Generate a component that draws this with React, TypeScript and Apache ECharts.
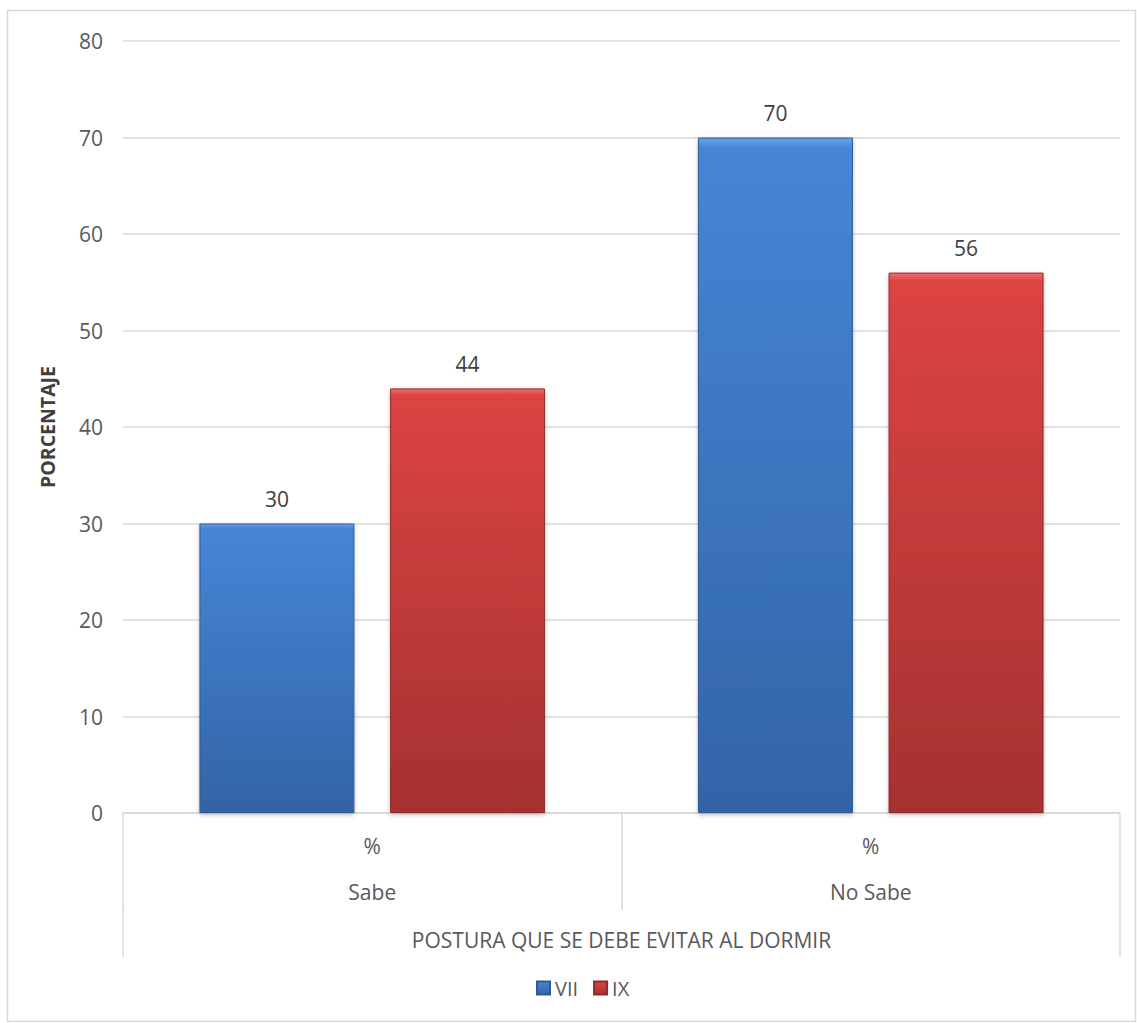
import React, { useEffect, useRef } from "react";
import * as echarts from "echarts";

const unitRow = ["%", "%"];
const groups = ["Sabe", "No Sabe"];
const seriesNames = ["VII", "IX"];
const valuesVII = [30, 70];
const valuesIX = [44, 56];
const yTicks = { min: 0, max: 80, interval: 10 };
const axisTitle = "POSTURA QUE SE DEBE EVITAR AL DORMIR";
const yTitle = "PORCENTAJE";

const W = 1137;
const H = 1023;
const GRID = { left: 123, right: 17, top: 41, bottom: 210 };
const FONT = "'Open Sans', 'Noto Sans', sans-serif";
const LINE = "#d9d9d9";
const TEXT = "#595959";
const FS = 21;

function barFill(top: string, mid: string, bottom: string) {
  return new echarts.graphic.LinearGradient(0, 0, 0, 1, [
    { offset: 0, color: top },
    { offset: 0.015, color: mid },
    { offset: 1, color: bottom },
  ]);
}

export default function App() {
  const ref = useRef<HTMLDivElement>(null);

  useEffect(() => {
    if (!ref.current) return;
    const chart = echarts.init(ref.current, null, { renderer: "svg" });
    const axisBottom = H - GRID.bottom;
    const xLeft = GRID.left;
    const xRight = W - GRID.right;

    const blue = barFill("#6aa3ea", "#4586d6", "#3364a6");
    const red = barFill("#f07070", "#dc4442", "#a53131");

    const labelStyle = {
      show: true,
      position: "top" as const,
      distance: 14,
      color: "#404040",
      fontSize: FS,
      fontFamily: FONT,
    };

    chart.setOption({
      animation: false,
      backgroundColor: "#ffffff",
      grid: { ...GRID, containLabel: false },
      legend: {
        data: seriesNames,
        top: 973,
        left: 531,
        icon: "rect",
        itemWidth: 13,
        itemHeight: 13,
        itemGap: 15,
        textStyle: { color: TEXT, fontSize: 20, fontFamily: FONT },
      },
      xAxis: [
        {
          type: "category",
          data: unitRow,
          position: "bottom",
          axisLine: { show: true, lineStyle: { color: LINE, width: 1.5 } },
          axisTick: {
            show: true,
            interval: 0,
            length: 97,
            lineStyle: { color: LINE, width: 1.5 },
          },
          axisLabel: {
            margin: 22,
            color: TEXT,
            fontSize: FS,
            fontFamily: FONT,
          },
        },
        {
          type: "category",
          data: groups,
          position: "bottom",
          axisLine: { show: false },
          axisTick: { show: false },
          axisLabel: {
            margin: 68,
            color: TEXT,
            fontSize: FS,
            fontFamily: FONT,
          },
          name: axisTitle,
          nameLocation: "middle",
          nameGap: 116,
          nameTextStyle: { color: TEXT, fontSize: FS, fontFamily: FONT },
        },
      ],
      yAxis: {
        type: "value",
        min: yTicks.min,
        max: yTicks.max,
        interval: yTicks.interval,
        axisLine: { show: false },
        axisTick: { show: false },
        splitLine: { lineStyle: { color: LINE, width: 1.5 } },
        axisLabel: {
          margin: 20,
          color: TEXT,
          fontSize: FS,
          fontFamily: FONT,
        },
        name: yTitle,
        nameLocation: "middle",
        nameRotate: 90,
        nameGap: 66,
        nameTextStyle: {
          color: "#404040",
          fontSize: 19.5,
          fontWeight: "bold",
          fontFamily: FONT,
        },
      },
      series: [
        {
          name: seriesNames[0],
          type: "bar",
          xAxisIndex: 0,
          data: valuesVII,
          barWidth: 155,
          barGap: "23%",
          itemStyle: {
            color: blue,
            borderColor: "#2d5a96",
            borderWidth: 1,
            shadowColor: "rgba(0,0,0,0.25)",
            shadowBlur: 4,
            shadowOffsetY: 2,
          },
          label: labelStyle,
        },
        {
          name: seriesNames[1],
          type: "bar",
          xAxisIndex: 0,
          data: valuesIX,
          barWidth: 155,
          barGap: "23%",
          itemStyle: {
            color: red,
            borderColor: "#8e2a2a",
            borderWidth: 1,
            shadowColor: "rgba(0,0,0,0.25)",
            shadowBlur: 4,
            shadowOffsetY: 2,
          },
          label: labelStyle,
        },
      ],
      graphic: [
        {
          type: "rect",
          silent: true,
          z: -10,
          shape: { x: 7.5, y: 10.5, width: W - 9, height: H - 12 },
          style: { fill: "none", stroke: LINE, lineWidth: 1.5 },
        },
        {
          type: "line",
          silent: true,
          shape: { x1: xLeft, y1: axisBottom + 96, x2: xLeft, y2: axisBottom + 144 },
          style: { stroke: LINE, lineWidth: 1.5 },
        },
        {
          type: "line",
          silent: true,
          shape: { x1: xRight, y1: axisBottom + 96, x2: xRight, y2: axisBottom + 144 },
          style: { stroke: LINE, lineWidth: 1.5 },
        },
      ],
    });

    return () => chart.dispose();
  }, []);

  return (
    <div
      ref={ref}
      style={{ position: "absolute", left: 0, top: 0, width: W, height: H }}
    />
  );
}
